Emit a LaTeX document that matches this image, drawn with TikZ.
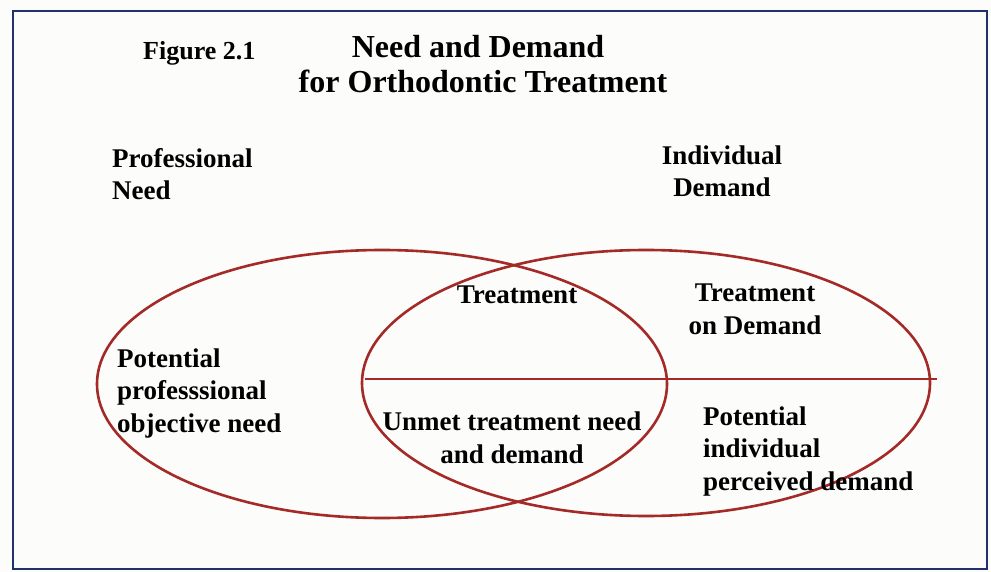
\documentclass[tikz,border=0pt]{standalone}
\usepackage{fontspec}
\setmainfont{Liberation Serif}
\begin{document}
\begin{tikzpicture}[x=1pt,y=-1pt,
  frame/.style={draw=framenavy,line width=2pt},
  setline/.style={draw=setred,line width=2.6pt},
  label/.style={inner sep=0pt,font=\bfseries\fontsize{27}{32.5}\selectfont},
  title/.style={inner sep=0pt,font=\bfseries\fontsize{32}{35}\selectfont,align=center}]
\definecolor{framenavy}{HTML}{23306E}
\definecolor{setred}{HTML}{A32A27}
\definecolor{paper}{HTML}{FCFCFB}
\useasboundingbox (0,0) rectangle (991,572);
\fill[paper] (0,0) rectangle (991,572);
% outer frame
\draw[frame] (13,11) rectangle (987,569);
% headings (multi-line nodes are placed by the baseline of their last line)
\node[label,anchor=base west,font=\bfseries\fontsize{26}{30}\selectfont] (fig) at (143,60) {Figure 2.1};
\node[title,anchor=base] (title1) at (478,58) {Need and Demand};
\node[title,anchor=base] (title2) at (483,93) {for Orthodontic Treatment};
\node[label,anchor=base west,align=left] (prof) at (112,200) {Professional\\Need};
\node[label,anchor=base,align=center] (indiv) at (722,197) {Individual\\Demand};
% the two overlapping sets and the dividing line
\draw[setline] (382,384) ellipse [x radius=285pt, y radius=134pt];
\draw[setline] (646,383) ellipse [x radius=284pt, y radius=133pt];
\coordinate (cutL) at (365,379);
\coordinate (cutR) at (937,379);
\draw[draw=setred,line width=2.4pt] (cutL) -- (cutR);
% region labels
\node[label,anchor=base] (treat) at (517,303) {Treatment};
\node[label,anchor=base,align=center] (ondem) at (755,334) {Treatment\\on Demand};
\node[label,anchor=base west,align=left] (potprof) at (117,432) {Potential\\professsional\\objective need};
\node[label,anchor=base,align=center] (unmet) at (512,463) {Unmet treatment need\\and demand};
\node[label,anchor=base west,align=left] (potind) at (703,490) {Potential\\individual\\perceived demand};
\end{tikzpicture}
\end{document}
